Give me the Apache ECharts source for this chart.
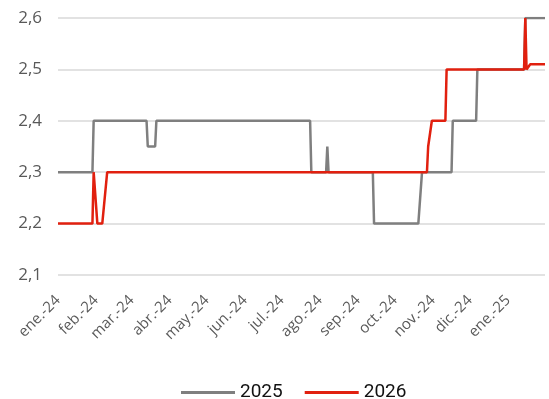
<!DOCTYPE html>
<html>
<head>
<meta charset="utf-8">
<script src="https://cdn.jsdelivr.net/npm/echarts@6/dist/echarts.min.js"></script>
<style>
  html, body { margin: 0; padding: 0; background: #fff; }
  #chart { width: 549px; height: 399px; }
</style>
</head>
<body>
<div id="chart"></div>
<script>
// puntos donde cambia cada serie (fecha, valor)
var serie2025 = [
  ["2024-01-01", 2.3], ["2024-01-29", 2.3], ["2024-01-30", 2.4],
  ["2024-03-13", 2.4], ["2024-03-14", 2.35], ["2024-03-20", 2.35], ["2024-03-21", 2.4],
  ["2024-07-24", 2.4], ["2024-07-25", 2.3],
  ["2024-08-06", 2.3], ["2024-08-07", 2.35], ["2024-08-08", 2.3],
  ["2024-09-13", 2.3], ["2024-09-14", 2.2],
  ["2024-10-20", 2.2], ["2024-10-23", 2.3],
  ["2024-11-16", 2.3], ["2024-11-17", 2.4],
  ["2024-12-06", 2.4], ["2024-12-07", 2.5],
  ["2025-01-14", 2.5], ["2025-01-15", 2.6], ["2025-01-31", 2.6]
];
var serie2026 = [
  ["2024-01-01", 2.2], ["2024-01-29", 2.2], ["2024-01-30", 2.3],
  ["2024-02-02", 2.2], ["2024-02-06", 2.2], ["2024-02-10", 2.3],
  ["2024-10-27", 2.3], ["2024-10-28", 2.35], ["2024-10-31", 2.4],
  ["2024-11-11", 2.4], ["2024-11-12", 2.5],
  ["2025-01-14", 2.5], ["2025-01-15", 2.6], ["2025-01-16", 2.5],
  ["2025-01-17", 2.5], ["2025-01-19", 2.51], ["2025-01-31", 2.51]
];
var meses = ["ene.", "feb.", "mar.", "abr.", "may.", "jun.", "jul.", "ago.", "sep.", "oct.", "nov.", "dic."];
var nombres = ["2025", "2026"];

var myChart = echarts.init(document.getElementById("chart"));
myChart.setOption({
  animation: false,
  grid: { left: 58, right: 4, top: 18, bottom: 124 },
  legend: {
    top: 378,
    left: 176,
    itemWidth: 54,
    itemHeight: 3,
    itemGap: 22,
    icon: "rect",
    textStyle: { fontFamily: "Roboto", fontSize: 19, color: "#111" },
    data: nombres
  },
  xAxis: {
    type: "time",
    min: "2024-01-01",
    max: "2025-01-31",
    minInterval: 28 * 86400000,
    maxInterval: 31 * 86400000,
    axisLine: { show: false },
    axisTick: { show: false },
    splitLine: { show: false },
    axisLabel: {
      rotate: 45,
      margin: 23,
      fontFamily: "Open Sans",
      fontSize: 15,
      color: "#595959",
      showMaxLabel: false,
      formatter: function (v) {
        var d = new Date(v);
        return meses[d.getMonth()] + "-" + String(d.getFullYear()).slice(2);
      }
    }
  },
  yAxis: {
    type: "value",
    min: 2.1,
    max: 2.6,
    interval: 0.1,
    axisLine: { show: false },
    axisTick: { show: false },
    splitLine: { lineStyle: { color: "#d9d9d9", width: 1.5 } },
    axisLabel: {
      margin: 16,
      fontFamily: "Open Sans",
      fontSize: 17,
      color: "#595959",
      formatter: function (v) { return v.toFixed(1).replace(".", ","); }
    }
  },
  series: [
    {
      name: nombres[0],
      type: "line",
      data: serie2025,
      showSymbol: false,
      lineStyle: { color: "#7f7f7f", width: 2.5 },
      itemStyle: { color: "#7f7f7f" }
    },
    {
      name: nombres[1],
      type: "line",
      data: serie2026,
      showSymbol: false,
      lineStyle: { color: "#e1200f", width: 2.5 },
      itemStyle: { color: "#e1200f" }
    }
  ]
});
</script>
</body>
</html>
